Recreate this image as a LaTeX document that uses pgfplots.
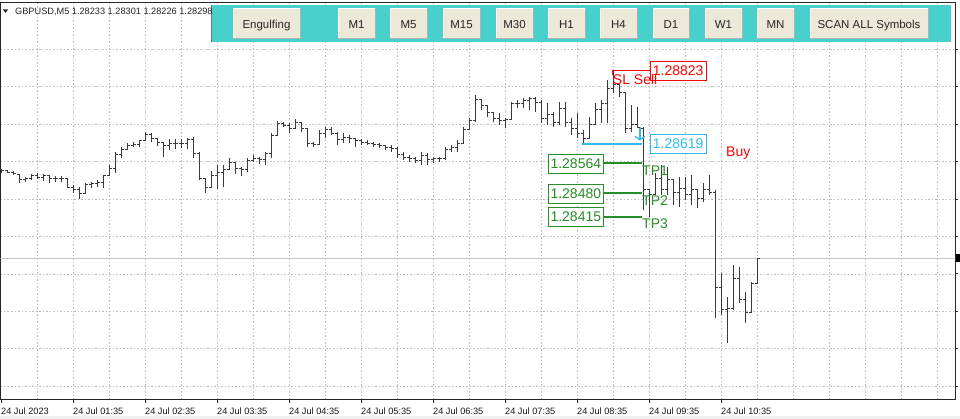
\documentclass[border=0pt]{standalone}
\usepackage{fontspec}
\setmainfont{Liberation Sans}
\usepackage{pgfplots}
\pgfplotsset{compat=1.18}
\usepackage{pgfplotstable}
\usetikzlibrary{arrows.meta}

\definecolor{barc}{RGB}{58,58,58}
\definecolor{gridc}{RGB}{190,190,190}
\definecolor{panelc}{RGB}{72,209,204}
\definecolor{btn}{RGB}{236,233,216}
\definecolor{slred}{RGB}{255,0,0}
\definecolor{tpgreen}{RGB}{40,140,40}
\definecolor{entcyan}{RGB}{51,187,238}

\pgfdeclareplotmark{otick}{\pgfpathmoveto{\pgfqpoint{-2.6pt}{0pt}}\pgfpathlineto{\pgfqpoint{0pt}{0pt}}\pgfusepathqstroke}
\pgfdeclareplotmark{ctick}{\pgfpathmoveto{\pgfqpoint{0pt}{0pt}}\pgfpathlineto{\pgfqpoint{2.6pt}{0pt}}\pgfusepathqstroke}

\pgfplotstableread{
k O H L C
0 1.28546 1.28549 1.28537 1.28543
1 1.28543 1.28546 1.28537 1.28540
2 1.28540 1.28543 1.28532 1.28535
3 1.28532 1.28535 1.28509 1.28518
4 1.28518 1.28526 1.28512 1.28523
5 1.28523 1.28535 1.28518 1.28529
6 1.28529 1.28537 1.28521 1.28526
7 1.28526 1.28535 1.28515 1.28529
8 1.28529 1.28532 1.28509 1.28521
9 1.28521 1.28529 1.28512 1.28523
10 1.28523 1.28529 1.28512 1.28521
11 1.28521 1.28523 1.28495 1.28498
12 1.28498 1.28504 1.28481 1.28490
13 1.28490 1.28498 1.28465 1.28479
14 1.28479 1.28509 1.28479 1.28504
15 1.28504 1.28512 1.28495 1.28507
16 1.28507 1.28518 1.28498 1.28512
17 1.28512 1.28532 1.28495 1.28529
18 1.28529 1.28560 1.28529 1.28551
19 1.28551 1.28596 1.28537 1.28588
20 1.28588 1.28610 1.28579 1.28602
21 1.28602 1.28621 1.28602 1.28613
22 1.28613 1.28624 1.28610 1.28616
23 1.28616 1.28630 1.28610 1.28627
24 1.28627 1.28652 1.28627 1.28644
25 1.28644 1.28649 1.28624 1.28633
26 1.28633 1.28633 1.28613 1.28624
27 1.28624 1.28624 1.28582 1.28613
28 1.28613 1.28633 1.28602 1.28621
29 1.28621 1.28633 1.28605 1.28619
30 1.28619 1.28633 1.28608 1.28621
31 1.28621 1.28635 1.28605 1.28630
32 1.28630 1.28638 1.28579 1.28593
33 1.28593 1.28596 1.28518 1.28523
34 1.28523 1.28523 1.28481 1.28498
35 1.28498 1.28543 1.28498 1.28529
36 1.28529 1.28560 1.28493 1.28540
37 1.28540 1.28560 1.28498 1.28546
38 1.28546 1.28579 1.28546 1.28568
39 1.28568 1.28568 1.28535 1.28551
40 1.28551 1.28554 1.28529 1.28546
41 1.28546 1.28579 1.28540 1.28571
42 1.28571 1.28588 1.28568 1.28579
43 1.28579 1.28582 1.28563 1.28574
44 1.28574 1.28596 1.28560 1.28591
45 1.28591 1.28649 1.28579 1.28641
46 1.28641 1.28683 1.28641 1.28677
47 1.28677 1.28680 1.28666 1.28669
48 1.28669 1.28677 1.28649 1.28661
49 1.28661 1.28689 1.28661 1.28680
50 1.28680 1.28680 1.28652 1.28663
51 1.28663 1.28663 1.28610 1.28619
52 1.28619 1.28624 1.28610 1.28616
53 1.28616 1.28658 1.28616 1.28649
54 1.28649 1.28666 1.28635 1.28658
55 1.28658 1.28666 1.28644 1.28649
56 1.28649 1.28652 1.28616 1.28630
57 1.28630 1.28649 1.28621 1.28638
58 1.28638 1.28644 1.28621 1.28633
59 1.28633 1.28635 1.28610 1.28627
60 1.28627 1.28633 1.28616 1.28624
61 1.28624 1.28630 1.28616 1.28621
62 1.28621 1.28624 1.28610 1.28616
63 1.28616 1.28621 1.28608 1.28613
64 1.28613 1.28616 1.28602 1.28608
65 1.28608 1.28616 1.28596 1.28605
66 1.28605 1.28610 1.28579 1.28588
67 1.28588 1.28596 1.28574 1.28582
68 1.28582 1.28588 1.28568 1.28577
69 1.28577 1.28582 1.28565 1.28571
70 1.28571 1.28596 1.28560 1.28585
71 1.28585 1.28593 1.28560 1.28574
72 1.28574 1.28582 1.28565 1.28579
73 1.28579 1.28582 1.28568 1.28579
74 1.28579 1.28610 1.28574 1.28602
75 1.28602 1.28616 1.28596 1.28608
76 1.28608 1.28630 1.28596 1.28621
77 1.28621 1.28666 1.28621 1.28658
78 1.28658 1.28691 1.28658 1.28683
79 1.28683 1.28756 1.28680 1.28742
80 1.28742 1.28742 1.28714 1.28725
81 1.28725 1.28725 1.28694 1.28708
82 1.28708 1.28708 1.28680 1.28691
83 1.28691 1.28705 1.28672 1.28683
84 1.28683 1.28691 1.28663 1.28686
85 1.28686 1.28736 1.28686 1.28731
86 1.28731 1.28742 1.28719 1.28733
87 1.28733 1.28747 1.28719 1.28739
88 1.28739 1.28750 1.28714 1.28745
89 1.28745 1.28750 1.28708 1.28736
90 1.28736 1.28742 1.28677 1.28691
91 1.28691 1.28733 1.28672 1.28700
92 1.28700 1.28708 1.28666 1.28680
93 1.28680 1.28736 1.28672 1.28719
94 1.28719 1.28736 1.28666 1.28680
95 1.28680 1.28691 1.28644 1.28663
96 1.28663 1.28705 1.28635 1.28649
97 1.28649 1.28658 1.28621 1.28635
98 1.28635 1.28694 1.28635 1.28672
99 1.28672 1.28733 1.28672 1.28714
100 1.28714 1.28742 1.28677 1.28731
101 1.28731 1.28798 1.28677 1.28775
102 1.28775 1.28823 1.28761 1.28784
103 1.28784 1.28784 1.28750 1.28764
104 1.28764 1.28764 1.28649 1.28663
105 1.28663 1.28728 1.28652 1.28672
106 1.28672 1.28722 1.28663 1.28666
107 1.28663 1.28666 1.28434 1.28490
108 1.28490 1.28490 1.28414 1.28476
109 1.28476 1.28537 1.28476 1.28523
110 1.28523 1.28560 1.28476 1.28490
111 1.28490 1.28554 1.28476 1.28518
112 1.28518 1.28518 1.28448 1.28484
113 1.28484 1.28526 1.28442 1.28495
114 1.28495 1.28526 1.28462 1.28476
115 1.28476 1.28532 1.28448 1.28490
116 1.28490 1.28490 1.28439 1.28467
117 1.28467 1.28509 1.28456 1.28490
118 1.28490 1.28532 1.28476 1.28484
119 1.28484 1.28490 1.28132 1.28218
120 1.28218 1.28257 1.28140 1.28154
121 1.28154 1.28190 1.28062 1.28159
122 1.28159 1.28280 1.28154 1.28243
123 1.28243 1.28274 1.28173 1.28182
124 1.28182 1.28204 1.28118 1.28148
125 1.28148 1.28232 1.28146 1.28229
126 1.28229 1.28299 1.28229 1.28298
}\bars

\begin{document}
\begin{tikzpicture}[x=1pt,y=1pt]
\useasboundingbox (0,0) rectangle (960,419);
\fill[white] (0,0) rectangle (960,419);
\fill[gray!12] (0,0) rectangle (960,2.5);
\begin{axis}[
  at={(0.5pt,19pt)}, anchor=south west, scale only axis,
  width=954.5pt, height=397pt,
  xmin=-0.1667, xmax=158.9167, ymin=1.279018, ymax=1.290134,
  axis line style={black!85, line width=1pt},
  xtick={0,12,...,120},
  xticklabels={24 Jul 2023,24 Jul 01:35,24 Jul 02:35,24 Jul 03:35,24 Jul 04:35,24 Jul 05:35,24 Jul 06:35,24 Jul 07:35,24 Jul 08:35,24 Jul 09:35,24 Jul 10:35},
  minor xtick={6,12,...,156},
  ytick={1.279406,1.280454,1.281502,1.282550,1.283598,1.284646,1.285694,1.286742,1.287790,1.288838},
  yticklabels={},
  xtick pos=bottom, ytick pos=right, tick align=outside,
  major tick length=3pt, minor tick length=0pt,
  tick style={black!85, line width=0.8pt},
  xminorgrids, ymajorgrids,
  grid style={gridc, dash pattern=on 1.5pt off 2pt, line width=0.7pt},
  minor grid style={gridc, dash pattern=on 1.5pt off 2pt, line width=0.7pt},
  xticklabel style={anchor=north west, inner sep=0pt, yshift=-5pt, xshift=-0.5pt, font=\fontsize{9.2}{11}\selectfont, text=black!90},
]
% current price line
\addplot[gray!45, line width=0.8pt, forget plot] coordinates {(-0.1667,1.28298) (158.9167,1.28298)};
% OHLC bars: high-low
\addplot[draw=none, only marks, mark=*, mark size=0pt, mark options={draw=none, fill=none}, forget plot,
  error bars/.cd, y dir=plus, y explicit, error mark=none,
  error bar style={draw=barc, line width=1pt}]
  table[x=k, y=L, y error plus expr=\thisrow{H}-\thisrow{L}] {\bars};
% open ticks
\addplot[barc, line width=1pt, only marks, mark=otick, forget plot] table[x=k, y=O] {\bars};
% close ticks
\addplot[barc, line width=1pt, only marks, mark=ctick, forget plot] table[x=k, y=C] {\bars};

% level lines
\addplot[color=slred, line width=1pt, forget plot] coordinates {(101.75,1.28812) (101.75,1.28823) (108.08,1.28823)};
\addplot[color=entcyan, line width=1.5pt, forget plot] coordinates {(96.75,1.28619) (106.75,1.28619)};
\addplot[color=entcyan, line width=1.3pt, -{Straight Barb[length=3.5pt,width=10pt]}, forget plot] coordinates {(106.4,1.28666) (106.4,1.28628)};
\addplot[color=tpgreen, line width=2pt, forget plot] coordinates {(100.42,1.28564) (106.75,1.28564)};
\addplot[color=tpgreen, line width=2pt, forget plot] coordinates {(100.42,1.28480) (106.75,1.28480)};
\addplot[color=tpgreen, line width=2pt, forget plot] coordinates {(100.42,1.28415) (106.75,1.28415)};

% boxes
\tikzset{pbox/.style={anchor=west, font=\fontsize{14}{14}\selectfont, inner xsep=2.5pt, inner ysep=4.5pt, text height=10pt, text depth=0pt, line width=0.8pt, fill=white}}
\node[pbox, draw=slred, text=slred] at (108.08,1.28823) {1.28823};
\node[pbox, draw=entcyan, text=entcyan] at (108.08,1.28619) {1.28619};
\node[pbox, anchor=east, draw=tpgreen, text=tpgreen] at (100.42,1.28564) {1.28564};
\node[pbox, anchor=east, draw=tpgreen, text=tpgreen] at (100.42,1.28480) {1.28480};
\node[pbox, anchor=east, draw=tpgreen, text=tpgreen] at (100.42,1.28415) {1.28415};

% texts
\tikzset{ptxt/.style={font=\fontsize{14}{14}\selectfont, inner sep=0pt}}
\node[ptxt, anchor=west, text=slred] at (101.87,1.28799) {SL Sell};
\node[ptxt, anchor=north west, text=tpgreen, yshift=-2pt] at (106.75,1.28564) {TP1};
\node[ptxt, anchor=north west, text=tpgreen, yshift=-2pt] at (106.75,1.28480) {TP2};
\node[ptxt, anchor=north west, text=tpgreen, yshift=-2pt] at (106.75,1.28415) {TP3};
\node[ptxt, anchor=west, text=slred] at (120.75,1.28593) {Buy};
\end{axis}

% current price marker on the right
\fill[black] (955.5,157) rectangle (960,165);

% button panel
\fill[panelc] (211,377) rectangle (951,414);
\draw[black!55, line width=0.8pt] (211,377) -- (211,414);
\foreach \a/\b/\t in {233/300/Engulfing, 338/375/M1, 390/427/M5, 443/480/M15, 496/533/M30, 548/585/H1, 600/637/H4, 653/689/D1, 705/742/W1, 757/794/MN, 810/928/SCAN ALL Symbols}{
  \fill[btn] (\a,381) rectangle (\b,411);
  \draw[white, line width=0.8pt] (\a,381) -- (\a,411) -- (\b,411);
  \draw[gray!60, line width=0.8pt] (\b,411) -- (\b,381) -- (\a,381);
  \node[anchor=base, inner sep=0pt, font=\fontsize{11.5}{12}\selectfont, text=black!85] at ({(\a+\b)/2},390.7) {\t};
}

% top-left info
\fill[black!85] (3,409.5) -- (8,409.5) -- (5.5,406) -- cycle;
\node[anchor=base west, inner sep=0pt, font=\fontsize{9.2}{11}\selectfont, text=black!85] at (15,404) {GBPUSD,M5 1.28233 1.28301 1.28226 1.28298};
\end{tikzpicture}
\end{document}
